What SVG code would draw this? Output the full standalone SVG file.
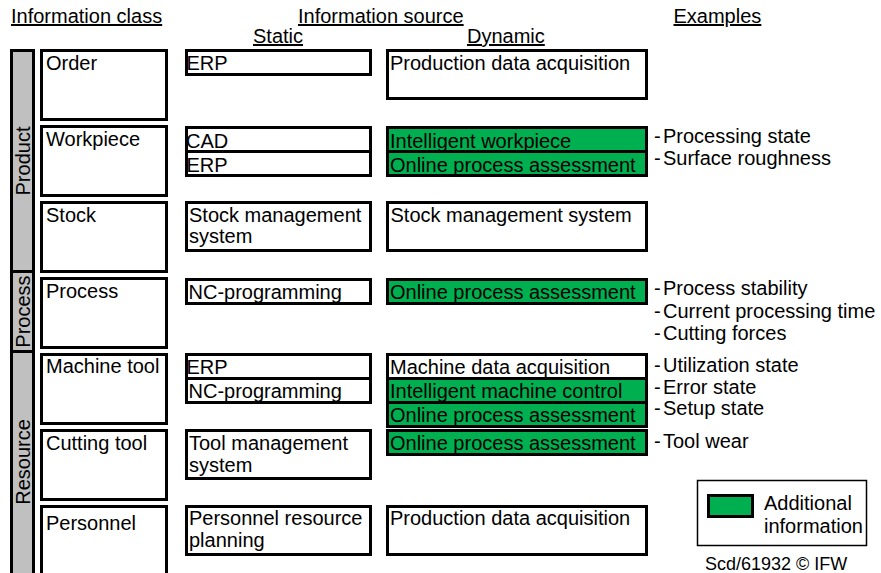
<svg xmlns="http://www.w3.org/2000/svg" width="881" height="573" viewBox="0 0 881 573">
<style>
text{font-family:"Liberation Sans",Arial,sans-serif;font-size:20px;fill:#000}
.hd{text-decoration:underline}
.box{fill:#fff;stroke:#000;stroke-width:3}
.gr{fill:#00b050;stroke:#000;stroke-width:3}
.bar{fill:#c0c0c0;stroke:#000;stroke-width:3}
.small{font-size:18px}
</style>
<rect width="881" height="573" fill="#fff"/>
<g id="headers">
<text class="hd" x="11" y="23">Information class</text>
<text class="hd" x="298" y="23">Information source</text>
<text class="hd" x="253" y="43">Static</text>
<text class="hd" x="467" y="43">Dynamic</text>
<text class="hd" x="673.5" y="23">Examples</text>
</g>
<g id="bars">
<rect class="bar" x="11.5" y="50.5" width="22" height="221"/>
<text transform="translate(30,161) rotate(-90)" text-anchor="middle">Product</text>
<rect class="bar" x="11.5" y="271.5" width="22" height="80"/>
<text transform="translate(30,311.5) rotate(-90)" text-anchor="middle">Process</text>
<rect class="bar" x="11.5" y="351.5" width="22" height="230"/>
<text transform="translate(30,462) rotate(-90)" text-anchor="middle">Resource</text>
</g>
<g id="order">
<rect class="box" x="41.5" y="50.5" width="125" height="69"/>
<text x="46" y="70">Order</text>
<rect class="box" x="186.5" y="50.5" width="184" height="24"/>
<text x="186.5" y="69.5">ERP</text>
<rect class="box" x="387.5" y="50.5" width="259" height="48"/>
<text x="390" y="70">Production data acquisition</text>
</g>
<g id="workpiece">
<rect class="box" x="41.5" y="126.5" width="125" height="69"/>
<text x="46" y="146">Workpiece</text>
<rect class="box" x="186.5" y="127.5" width="184" height="24"/>
<text x="186" y="148">CAD</text>
<rect class="box" x="186.5" y="151.5" width="184" height="24"/>
<text x="186.5" y="172">ERP</text>
<rect class="gr" x="387.5" y="127.5" width="259" height="24"/>
<text x="390" y="147.5">Intelligent workpiece</text>
<rect class="gr" x="387.5" y="151.5" width="259" height="24"/>
<text x="390" y="171.5">Online process assessment</text>
<text x="654" y="143">-<tspan x="663">Processing state</tspan></text>
<text x="654" y="165">-<tspan x="663">Surface roughness</tspan></text>
</g>
<g id="stock">
<rect class="box" x="41.5" y="202.5" width="125" height="69"/>
<text x="46" y="222">Stock</text>
<rect class="box" x="186.5" y="202.5" width="184" height="48"/>
<text x="189" y="222">Stock management</text>
<text x="189" y="243">system</text>
<rect class="box" x="387.5" y="202.5" width="259" height="48"/>
<text x="390.5" y="222">Stock management system</text>
</g>
<g id="process">
<rect class="box" x="41.5" y="278.5" width="125" height="69"/>
<text x="46" y="298">Process</text>
<rect class="box" x="186.5" y="279.5" width="184" height="24"/>
<text x="188.5" y="299">NC-programming</text>
<rect class="gr" x="387.5" y="279.5" width="259" height="24"/>
<text x="390" y="299">Online process assessment</text>
<text x="654" y="295">-<tspan x="663">Process stability</tspan></text>
<text x="654" y="318">-<tspan x="663">Current processing time</tspan></text>
<text x="654" y="340">-<tspan x="663">Cutting forces</tspan></text>
</g>
<g id="machine-tool">
<rect class="box" x="41.5" y="354.5" width="125" height="69"/>
<text x="46" y="373">Machine tool</text>
<rect class="box" x="186.5" y="354.5" width="184" height="24"/>
<text x="186.5" y="374">ERP</text>
<rect class="box" x="186.5" y="378.5" width="184" height="24"/>
<text x="188.5" y="398">NC-programming</text>
<rect class="box" x="387.5" y="354.5" width="259" height="24"/>
<text x="390" y="374">Machine data acquisition</text>
<rect class="gr" x="387.5" y="378.5" width="259" height="24"/>
<text x="390" y="398">Intelligent machine control</text>
<rect class="gr" x="387.5" y="402.5" width="259" height="24"/>
<text x="390" y="422">Online process assessment</text>
<text x="654" y="372">-<tspan x="663">Utilization state</tspan></text>
<text x="654" y="393.5">-<tspan x="663">Error state</tspan></text>
<text x="654" y="415">-<tspan x="663">Setup state</tspan></text>
</g>
<g id="cutting-tool">
<rect class="box" x="41.5" y="430.5" width="125" height="69"/>
<text x="46" y="450">Cutting tool</text>
<rect class="box" x="186.5" y="430.5" width="184" height="48"/>
<text x="189" y="450">Tool management</text>
<text x="189" y="472">system</text>
<rect class="gr" x="387.5" y="430.5" width="259" height="24"/>
<text x="390" y="450">Online process assessment</text>
<text x="654" y="448">-<tspan x="663">Tool wear</tspan></text>
</g>
<g id="personnel">
<rect class="box" x="41.5" y="506.5" width="125" height="80"/>
<text x="46" y="530">Personnel</text>
<rect class="box" x="186.5" y="506.5" width="184" height="48"/>
<text x="189" y="525">Personnel resource</text>
<text x="189" y="547">planning</text>
<rect class="box" x="387.5" y="506.5" width="259" height="48"/>
<text x="390" y="525">Production data acquisition</text>
</g>
<g id="legend">
<rect x="697.5" y="480.5" width="169" height="65" fill="#fff" stroke="#000" stroke-width="1.5"/>
<rect class="gr" x="708.5" y="495.5" width="44" height="21"/>
<text x="764" y="510">Additional</text>
<text x="764" y="533">information</text>
</g>
<g id="footer">
<text class="small" x="705" y="570">Scd/61932 © IFW</text>
</g>
</svg>
